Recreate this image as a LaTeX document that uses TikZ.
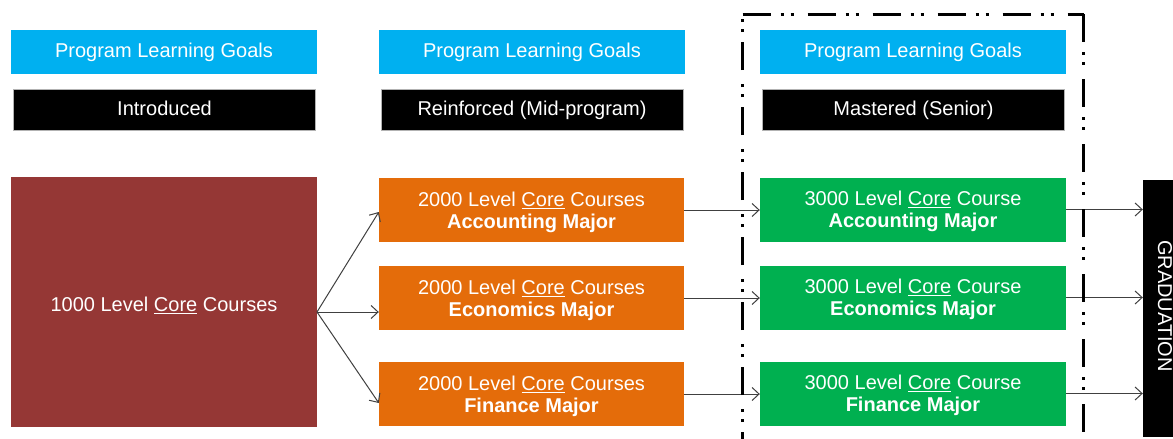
\documentclass[tikz,border=0pt]{standalone}
\usepackage{fontspec}
\setmainfont{Liberation Sans}
\usetikzlibrary{arrows.meta}
\definecolor{goalblue}{HTML}{00B0F0}
\definecolor{corered}{HTML}{953735}
\definecolor{midorange}{HTML}{E46C0A}
\definecolor{seniorgreen}{HTML}{00B050}
\definecolor{arrowgray}{HTML}{404040}
\tikzset{
  basebox/.style={rectangle, inner sep=0pt, text=white, align=center,
    font=\fontsize{20}{22}\selectfont},
  goalbox/.style={basebox, fill=goalblue, minimum width=306pt, minimum height=44pt, text height=14.6pt, text depth=4.4pt},
  stagebox/.style={basebox, fill=black, draw=gray!60, line width=0.6pt, minimum width=302pt, minimum height=41pt, text height=14.6pt, text depth=4.4pt},
  orangebox/.style={basebox, fill=midorange, minimum width=305pt, minimum height=64pt, text depth=0pt},
  greenbox/.style={basebox, fill=seniorgreen, minimum width=306pt, minimum height=64pt, text depth=0pt},
  flowarrow/.style={draw=arrowgray, line width=1pt, -{Straight Barb[length=7pt,width=13pt]}},
  dashframe/.style={line width=3pt, dash pattern=on 28pt off 10pt on 3pt off 7pt on 3pt off 14pt}
}
\newcommand{\coreword}{\underline{Core}}
\begin{document}
\begin{tikzpicture}[x=1pt,y=-1pt]
\clip (0,0) rectangle (1173,439);
\fill[white] (0,0) rectangle (1173,439);
% headers
\node[goalbox] (g1) at (164,52) {Program Learning Goals};
\node[goalbox] (g2) at (532,52) {Program Learning Goals};
\node[goalbox] (g3) at (913,52) {Program Learning Goals};
\node[stagebox] (s1) at (164.5,110) {Introduced};
\node[stagebox] (s2) at (532,110) {Reinforced (Mid-program)};
\node[stagebox] (s3) at (913.5,110) {Mastered (Senior)};
% core
\node[basebox, fill=corered, minimum width=306pt, minimum height=250pt] (c1) at (164,302) {};
\node[basebox] (c1text) at (164,305) {1000 Level \coreword{} Courses};
% mid
\node[orangebox] (a1) at (531.5,210) {2000 Level \coreword{} Courses\\\textbf{Accounting Major}};
\node[orangebox] (a2) at (531.5,298) {2000 Level \coreword{} Courses\\\textbf{Economics Major}};
\node[orangebox] (a3) at (531.5,394) {2000 Level \coreword{} Courses\\\textbf{Finance Major}};
% senior
\node[greenbox] (m1) at (913,209.5) {3000 Level \coreword{} Course\\\textbf{Accounting Major}};
\node[greenbox] (m2) at (913,297.5) {3000 Level \coreword{} Course\\\textbf{Economics Major}};
\node[greenbox] (m3) at (913,393.5) {3000 Level \coreword{} Course\\\textbf{Finance Major}};
% graduation
\node[basebox, fill=black, minimum width=47pt, minimum height=257pt] (grad) at (1166.5,308.5) {};
\node[basebox, rotate=-90] (gradtext) at (1165,306) {GRADUATION};
% arrows
\coordinate (fork) at (317,312);
\draw[flowarrow] (fork) -- ([yshift=-2pt]a1.west);
\draw[flowarrow] (fork) -- ([yshift=-14pt]a2.west);
\draw[flowarrow] (fork) -- ([yshift=-9pt]a3.west);
\draw[flowarrow] (a1.east) -- (a1.east -| m1.west);
\draw[flowarrow] (a2.east) -- (a2.east -| m2.west);
\draw[flowarrow] (a3.east) -- (a3.east -| m3.west);
\draw[flowarrow] (m1.east) -- (m1.east -| grad.west);
\draw[flowarrow] (m2.east) -- (m2.east -| grad.west);
\draw[flowarrow] (m3.east) -- (m3.east -| grad.west);
% senior frame
\draw[dashframe] (742.5,460) -- (742.5,14);
\draw[dashframe] (742.5,14) -- (1083.5,14);
\draw[dashframe] (1083.5,14) -- (1083.5,460);
\end{tikzpicture}
\end{document}
